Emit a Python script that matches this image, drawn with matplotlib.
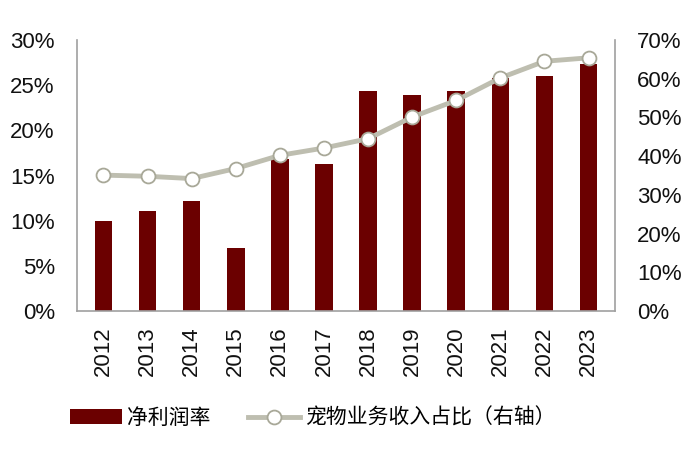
import matplotlib
matplotlib.use("Agg")
import matplotlib.pyplot as plt
from matplotlib.ticker import FuncFormatter

plt.rcParams['font.family'] = ['Liberation Sans', 'Noto Sans CJK SC', 'DejaVu Sans']

years = ['2012', '2013', '2014', '2015', '2016', '2017', '2018', '2019', '2020', '2021', '2022', '2023']
net_margin = [10.0, 11.1, 12.2, 7.0, 16.8, 16.3, 24.4, 23.9, 24.4, 25.8, 26.0, 27.3]
pet_share = [35.1, 34.8, 34.2, 36.8, 40.2, 42.1, 44.5, 50.1, 54.4, 60.2, 64.5, 65.4]

bar_color = '#6B0000'
line_color = '#BEBEB0'
spine_color = '#A0A0A0'

fig = plt.figure(figsize=(7, 4.5), dpi=100)
ax = fig.add_axes([77/700, 1-311/450, (615-77)/700, (311-40)/450])
ax2 = ax.twinx()

x = range(len(years))
bars = ax.bar(x, net_margin, width=0.4, color=bar_color, label='净利润率', zorder=2)
ax.set_ylim(0, 30)
ax.set_yticks([0, 5, 10, 15, 20, 25, 30])
ax.yaxis.set_major_formatter(FuncFormatter(lambda v, p: f'{v:.0f}%'))
ax.set_xlim(-0.6, len(years) - 0.4)
ax.set_xticks(list(x))
ax.set_xticklabels(years, rotation=90)

line, = ax2.plot(x, pet_share, color=line_color, lw=3.5, marker='o', markersize=10,
                 markerfacecolor='white', markeredgecolor='#A8A898', markeredgewidth=1.3,
                 label='宠物业务收入占比（右轴）', zorder=3)
ax2.set_ylim(0, 70)
ax2.set_yticks([0, 10, 20, 30, 40, 50, 60, 70])
ax2.yaxis.set_major_formatter(FuncFormatter(lambda v, p: f'{v:.0f}%'))

for a in (ax, ax2):
    a.tick_params(length=0, labelsize=16, colors='#111111')
    for s in a.spines.values():
        s.set_visible(False)
ax.spines['left'].set_visible(True)
ax.spines['bottom'].set_visible(True)
ax2.spines['right'].set_visible(True)
for s in (ax.spines['left'], ax.spines['bottom'], ax2.spines['right']):
    s.set_color(spine_color)
    s.set_linewidth(1.2)
ax.tick_params(axis='y', pad=16)
ax2.tick_params(axis='y', pad=16)
ax.tick_params(axis='x', pad=11)

fig.legend([bars, line], ['净利润率', '宠物业务收入占比（右轴）'],
           loc='center', bbox_to_anchor=(0.447, 1 - 418/450), ncol=2,
           frameon=False, handlelength=2.5, handletextpad=0.25, columnspacing=1.8,
           prop={'family': ['Noto Sans CJK SC', 'DejaVu Sans'], 'size': 15})

fig.savefig('out.png', dpi=100)
